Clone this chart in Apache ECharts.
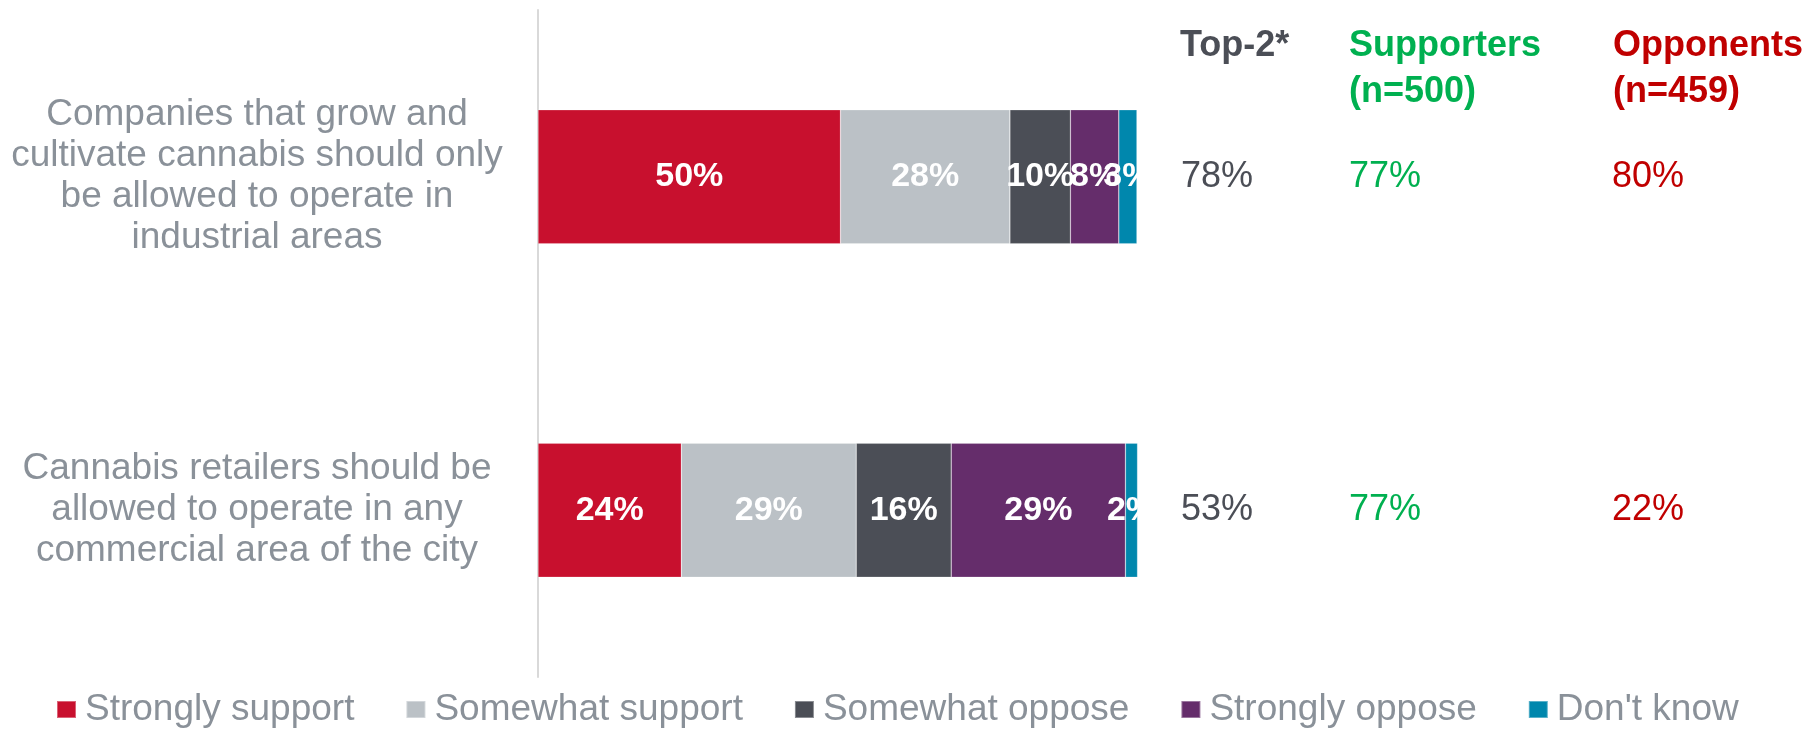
<!DOCTYPE html>
<html>
<head>
<meta charset="utf-8">
<script src="https://cdn.jsdelivr.net/npm/echarts@6/dist/echarts.min.js"></script>
<style>
html,body{margin:0;padding:0;background:#fff;}
#chart{width:1814px;height:730px;}
</style>
</head>
<body>
<div id="chart"></div>
<script>
const categories = [
  'Companies that grow and\ncultivate cannabis should only\nbe allowed to operate in\nindustrial areas',
  'Cannabis retailers should be\nallowed to operate in any\ncommercial area of the city'
];
const seriesNames = ['Strongly support', 'Somewhat support', 'Somewhat oppose', 'Strongly oppose', "Don't know"];
const stronglySupport = [50, 23.7];
const somewhatSupport = [28, 28.9];
const somewhatOppose = [10, 15.7];
const stronglyOppose = [8, 28.8];
const dontKnow = [3, 2.0];
const top2 = [78, 53];
const supporters = [77, 77];
const opponents = [80, 22];
const headers = ['Top-2*', 'Supporters\n(n=500)', 'Opponents\n(n=459)'];

const colors = ['#c8102e', '#bbc1c6', '#4b4e56', '#652d6b', '#0087ad'];
const FONT = '"Liberation Sans", Arial, sans-serif';
const values = [stronglySupport, somewhatSupport, somewhatOppose, stronglyOppose, dontKnow];

const chart = echarts.init(document.getElementById('chart'), null, {renderer: 'canvas'});

const series = values.map((arr, i) => ({
  name: seriesNames[i],
  type: 'bar',
  stack: 'total',
  barWidth: 134,
  data: arr,
  itemStyle: {color: colors[i], borderColor: 'rgba(255,255,255,0.35)', borderWidth: 0.6},
  label: {
    show: true,
    position: 'inside',
    formatter: (p) => Math.round(p.value) + '%',
    color: '#ffffff',
    fontFamily: FONT,
    fontWeight: 'bold',
    fontSize: 34,
    padding: [3, 0, 0, 0]
  },
  emphasis: {disabled: true}
}));

function sideAxis(arr, color, margin) {
  return {
    type: 'category',
    data: categories,
    inverse: true,
    position: 'right',
    axisLine: {show: false},
    axisTick: {show: false},
    splitLine: {show: false},
    axisLabel: {
      margin: margin,
      align: 'left',
      color: color,
      fontFamily: FONT,
      fontSize: 36,
      formatter: (v, idx) => arr[idx] + '%'
    }
  };
}

const option = {
  animation: false,
  backgroundColor: '#ffffff',
  color: colors,
  grid: {left: 538, top: 10, width: 605, height: 667, containLabel: false},
  xAxis: {
    type: 'value', min: 0, max: 100, show: false
  },
  yAxis: [
    {
      type: 'category',
      data: categories,
      inverse: true,
      axisLine: {show: true, lineStyle: {color: '#d9d9d9', width: 2}},
      axisTick: {show: false},
      axisLabel: {
        margin: 281,
        align: 'center',
        color: '#8a9199',
        fontFamily: FONT,
        fontSize: 37,
        lineHeight: 41,
        padding: [6, 0, 0, 0]
      }
    },
    sideAxis(top2, '#4b4e56', 38),
    sideAxis(supporters, '#00b050', 206),
    sideAxis(opponents, '#c00000', 469)
  ],
  title: [
    {text: headers[0], left: 1180, top: 23, padding: 0,
     textStyle: {color: '#4b4e56', fontFamily: FONT, fontWeight: 'bold', fontSize: 36, lineHeight: 46}},
    {text: headers[1], left: 1349, top: 23, padding: 0,
     textStyle: {color: '#00b050', fontFamily: FONT, fontWeight: 'bold', fontSize: 36, lineHeight: 46}},
    {text: headers[2], left: 1613, top: 23, padding: 0,
     textStyle: {color: '#c00000', fontFamily: FONT, fontWeight: 'bold', fontSize: 36, lineHeight: 46}}
  ],
  legend: {
    left: 56,
    top: 691,
    padding: 0,
    icon: 'rect',
    itemWidth: 19,
    itemHeight: 17,
    itemGap: 51,
    selectedMode: false,
    data: seriesNames,
    textStyle: {color: '#8a9199', fontFamily: FONT, fontSize: 37, padding: [0, 0, 0, 4]}
  },
  series: series
};

chart.setOption(option);
</script>
</body>
</html>
